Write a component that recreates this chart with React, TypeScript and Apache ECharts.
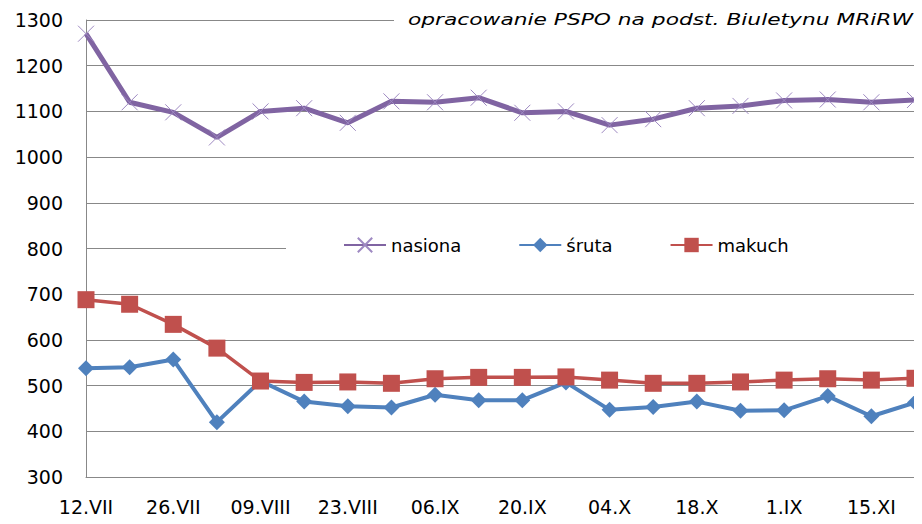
import React, { useEffect, useRef } from "react";
import * as echarts from "echarts";

const categories = [
  "12.VII", "19.VII", "26.VII", "02.VIII", "09.VIII", "16.VIII", "23.VIII", "30.VIII",
  "06.IX", "13.IX", "20.IX", "27.IX", "04.X", "11.X", "18.X", "25.X",
  "1.IX", "08.XI", "15.XI", "22.XI",
];
const nasiona = [1270, 1120, 1098, 1043, 1100, 1107, 1075, 1122, 1120, 1130, 1097, 1100, 1070, 1083, 1107, 1112, 1124, 1126, 1120, 1125];
const sruta = [538, 540, 557, 420, 510, 465, 455, 452, 480, 468, 468, 507, 447, 453, 465, 445, 446, 477, 433, 463];
const makuch = [688, 678, 634, 582, 510, 507, 508, 505, 515, 518, 518, 519, 512, 505, 505, 508, 512, 515, 512, 516];
const yTicks = { min: 300, max: 1300, interval: 100 };
const sourceNote = "opracowanie PSPO na podst. Biuletynu MRiRW";

const FONT = "DejaVu Sans";

export default function App() {
  const ref = useRef<HTMLDivElement>(null);
  useEffect(() => {
    if (!ref.current) return;
    const chart = echarts.init(ref.current, null, { renderer: "svg" });
    chart.setOption({
      animation: false,
      backgroundColor: "#fff",
      grid: { left: 86, right: 7, top: 20, bottom: 47, containLabel: false },
      legend: {
        left: 286,
        top: 230,
        padding: [6, 128, 6, 57],
        backgroundColor: "#fff",
        itemWidth: 42,
        itemHeight: 18,
        itemGap: 57,
        textStyle: { fontFamily: FONT, fontSize: 18, color: "#000" },
        data: ["nasiona", "śruta", "makuch"],
        z: 10,
      },
      graphic: [
        {
          type: "rect",
          z: 100,
          shape: { x: 394, y: 0, width: 528, height: 31 },
          style: { fill: "#fff" },
        },
        {
          type: "text",
          z: 101,
          x: 408,
          y: 20,
          scaleX: 1.36,
          style: {
            text: sourceNote,
            x: 0,
            y: 0,
            fontFamily: FONT,
            fontStyle: "italic",
            fontSize: 16,
            fill: "#000",
            align: "left",
            verticalAlign: "middle",
          },
        },
      ],
      xAxis: {
        type: "category",
        data: categories,
        boundaryGap: false,
        axisLine: { show: true, lineStyle: { color: "#888", width: 1 } },
        axisTick: { show: false },
        axisLabel: {
          interval: 1,
          margin: 20,
          fontFamily: FONT,
          fontSize: 19,
          color: "#000",
        },
        splitLine: { show: false },
      },
      yAxis: {
        type: "value",
        min: yTicks.min,
        max: yTicks.max,
        interval: yTicks.interval,
        axisLine: { show: true, lineStyle: { color: "#888", width: 1 } },
        axisTick: { show: false },
        axisLabel: {
          margin: 23,
          fontFamily: FONT,
          fontSize: 19,
          color: "#000",
          formatter: (v: number) => String(v),
        },
        splitLine: { show: true, lineStyle: { color: "#888", width: 1 } },
      },
      series: [
        {
          name: "nasiona",
          type: "line",
          data: nasiona,
          symbol: "path://M0,0L10,10M10,0L0,10",
          symbolSize: 16,
          lineStyle: { color: "#8064a2", width: 5 },
          itemStyle: { color: "rgba(0,0,0,0)", borderColor: "#9e89c2", borderWidth: 1 },
          z: 2,
        },
        {
          name: "śruta",
          type: "line",
          data: sruta,
          symbol: "diamond",
          symbolSize: 16,
          lineStyle: { color: "#4f81bd", width: 4 },
          itemStyle: { color: "#4f81bd" },
          z: 3,
        },
        {
          name: "makuch",
          type: "line",
          data: makuch,
          symbol: "rect",
          symbolSize: 17,
          lineStyle: { color: "#c0504d", width: 3.5 },
          itemStyle: { color: "#c0504d" },
          z: 4,
        },
      ],
    });
    return () => chart.dispose();
  }, []);
  return <div ref={ref} style={{ width: 922, height: 524, margin: -8 }} />;
}
